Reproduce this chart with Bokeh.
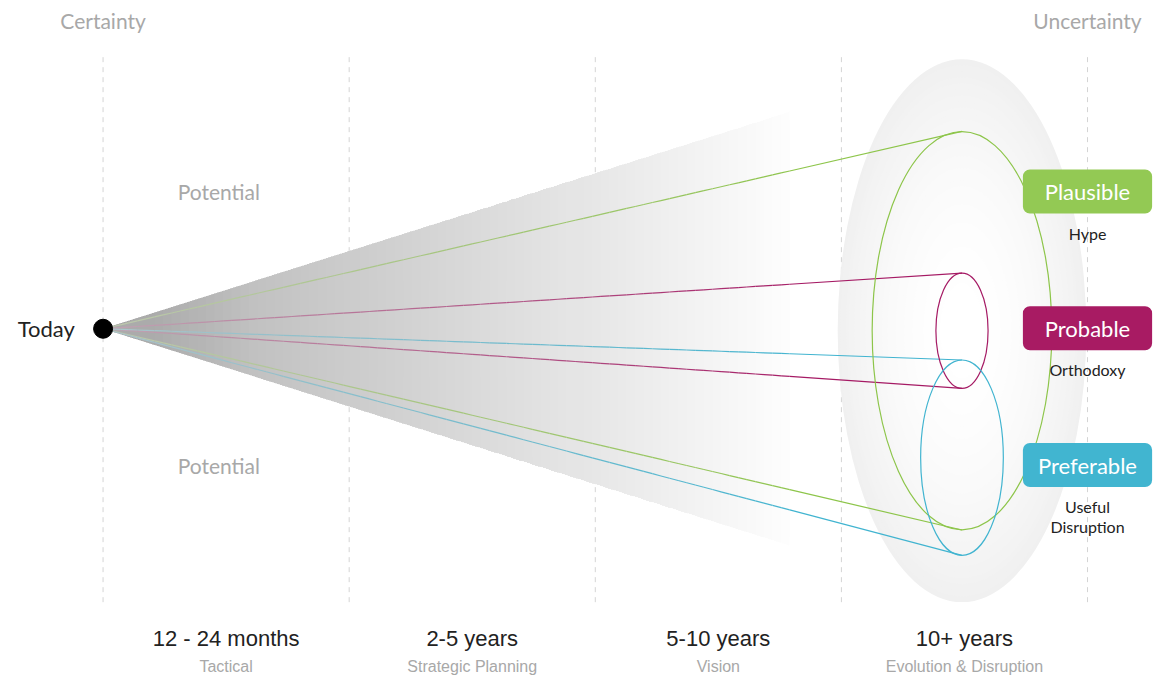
import numpy as np
from bokeh.plotting import figure
from bokeh.models import Range1d
from bokeh.core.properties import value
from bokeh.embed import file_html
from bokeh.resources import INLINE

# ---------------- data ----------------
horizons = ["12 - 24 months", "2-5 years", "5-10 years", "10+ years"]
horizon_roles = ["Tactical", "Strategic Planning", "Vision", "Evolution & Disruption"]
horizon_bounds = [0, 1, 2, 3, 4]          # boundaries between time horizons

scenarios = ["Plausible", "Probable", "Preferable"]
scenario_notes = ["Hype", "Orthodoxy", "Useful\nDisruption"]
scenario_center = [-0.02, -0.02, -1.32]   # centre of each future (uncertainty units)
scenario_spread = [2.04, 0.59, 1.00]      # half spread of each future
scenario_depth = [0.365, 0.106, 0.168]    # half depth of each future (horizon units)
scenario_colors = ["#8dc54a", "#a51a64", "#41b4d0"]
box_colors = ["#93c954", "#a81b63", "#41b5d0"]

future_horizon = 3.49     # where the futures are drawn
potential_spread = 2.22   # half spread of the cone of potential
potential_reach = 2.79    # reach of the cone of potential
cloud_spread = 2.78
cloud_depth = 0.505

# ---------------- helpers ----------------
def hex2rgb(h):
    h = h.lstrip("#")
    return [int(h[i:i + 2], 16) for i in (0, 2, 4)]

def rgb2hex(c):
    return "#%02x%02x%02x" % tuple(int(round(max(0, min(255, v)))) for v in c)

# ---------------- figure ----------------
p = figure(width=1160, height=677,
           x_range=Range1d(-0.4168, 4.2966), y_range=Range1d(-3.57, 3.36),
           output_backend="svg", toolbar_location=None, min_border=0)
p.axis.visible = False
p.grid.visible = False
p.outline_line_color = None
p.background_fill_color = "white"
p.border_fill_color = "white"

LATO = value("Lato")
SANS = value("Liberation Sans")

# dashed horizon boundaries
p.segment(x0=horizon_bounds, y0=[2.78] * 5, x1=horizon_bounds, y1=[-2.82] * 5,
          line_color="#d4d4d4", line_dash="5 5", line_width=1)

# uncertainty cloud (radial gradient approximated with rings)
n_rings = 45
ts = np.linspace(1.0, 0.02, n_rings)
ring_cols = [rgb2hex([255 - 15 * t ** 2.0] * 3) for t in ts]
p.ellipse(x=[future_horizon] * n_rings, y=[-0.02] * n_rings,
          width=list(2 * cloud_depth * ts), height=list(2 * cloud_spread * ts),
          fill_color=ring_cols, line_color=None)

# white mask for the cone of potential (hides dashed lines)
p.patch([0, potential_reach, potential_reach],
        [0, potential_spread, -potential_spread],
        fill_color="white", line_color=None)

# cone of potential: linear gradient by nested translucent triangles
N = 80
base = 200
uk = [potential_reach * (k + 1) / N for k in range(N)]
targets = [211 + 42 * ((k + 0.5) / N) for k in range(N)]
A = [(255 - t) / (255 - base) for t in targets]
S = [1 - a for a in A] + [1.0]
alphas = [1 - S[k] / S[k + 1] for k in range(N)]
xs = [[0, u, u] for u in uk]
ys = [[0, potential_spread * u / potential_reach, -potential_spread * u / potential_reach] for u in uk]
p.patches(xs, ys, fill_color=rgb2hex([base] * 3), fill_alpha=alphas, line_color=None)

# connectors: faded where they run through the cone, full colour beyond it
sx0, sy0, sx1, sy1, scol = [], [], [], [], []
for c, s, col in zip(scenario_center, scenario_spread, scenario_colors):
    rgb = hex2rgb(col)
    for yy in (c + s, c - s):
        slope = yy / future_horizon
        prev = 0.0
        for k in range(N):
            u1 = uk[k]
            a = A[k]
            sx0.append(prev); sy0.append(slope * prev)
            sx1.append(u1); sy1.append(slope * u1)
            scol.append(rgb2hex([v * (1 - a) + base * a for v in rgb]))
            prev = u1
        sx0.append(prev); sy0.append(slope * prev)
        sx1.append(future_horizon); sy1.append(yy)
        scol.append(col)
p.segment(x0=sx0, y0=sy0, x1=sx1, y1=sy1, line_color=scol, line_width=1.2)

# futures
p.ellipse(x=[future_horizon] * 3, y=scenario_center,
          width=[2 * d for d in scenario_depth], height=[2 * s for s in scenario_spread],
          fill_color=None, line_color=scenario_colors, line_width=1.2)

# today
p.scatter(x=[0], y=[0], size=19, color="black")
p.text(x=[-0.115], y=[0.0], text=["Today"], text_font=LATO, text_font_size="22px",
       text_color="#222222", text_align="right", text_baseline="middle")

# certainty labels
p.text(x=[0, 4], y=[3.16, 3.16], text=["Certainty", "Uncertainty"], text_font=LATO,
       text_font_size="21px", text_color="#a8a8a8", text_align="center", text_baseline="middle")
p.text(x=[0.47, 0.47], y=[1.40, -1.40], text=["Potential", "Potential"], text_font=LATO,
       text_font_size="21px", text_color="#a8a8a8", text_align="center", text_baseline="middle")

# horizon labels
mids = [(a + b) / 2 for a, b in zip(horizon_bounds[:-1], horizon_bounds[1:])]
p.text(x=mids, y=[-3.17] * 4, text=horizons, text_font=SANS, text_font_size="22px",
       text_color="#222222", text_align="center", text_baseline="middle")
p.text(x=mids, y=[-3.455] * 4, text=horizon_roles, text_font=SANS, text_font_size="16px",
       text_color="#a8a8a8", text_align="center", text_baseline="middle")

# scenario boxes
box_v = [1.405, 0.005, -1.395]
p.quad(left=[4 - 0.2625] * 3, right=[4 + 0.2625] * 3,
       top=[v + 0.225 for v in box_v], bottom=[v - 0.225 for v in box_v],
       fill_color=box_colors, line_color=None, border_radius=7)
p.text(x=[4] * 3, y=box_v, text=scenarios, text_font=LATO, text_font_size="22px",
       text_color="white", text_align="center", text_baseline="middle")
nx, ny, nt = [], [], []
for v, note in zip(box_v, scenario_notes):
    for i, line in enumerate(note.split("\n")):
        nx.append(4); ny.append(v - 0.425 - 0.20 * i); nt.append(line)
p.text(x=nx, y=ny, text=nt, text_font=LATO, text_font_size="16px",
       text_color="#222222", text_align="center", text_baseline="middle")

open("out.html", "w").write(file_html(p, INLINE))
